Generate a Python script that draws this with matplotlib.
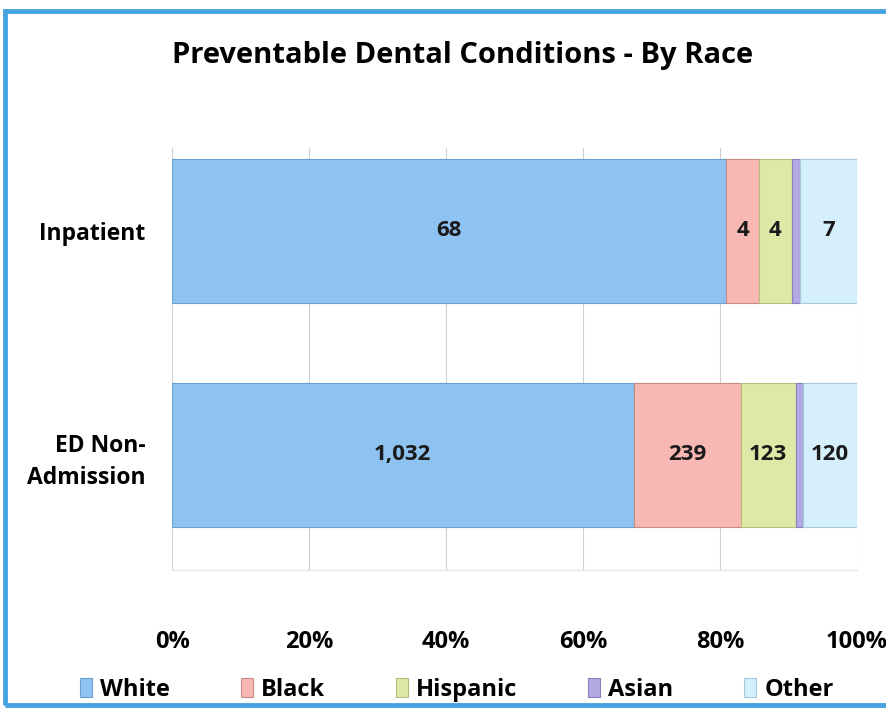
import matplotlib
matplotlib.use("Agg")
import matplotlib.pyplot as plt
from matplotlib.patches import Rectangle

# dados
categorias = ["ED Non-\nAdmission", "Inpatient"]
racas = ["White", "Black", "Hispanic", "Asian", "Other"]
white = [1032, 68]
black = [239, 4]
hispanic = [123, 4]
asian = [17, 1]
other = [120, 7]
cores = ["#8ec2f0", "#f7b7b2", "#dfe8a6", "#b3a9e3", "#d6effc"]
bordas = ["#6a9fd0", "#c98a86", "#b3bd7c", "#8a80c0", "#a8c8dc"]

plt.rcParams['font.family'] = ['Open Sans', 'DejaVu Sans']
plt.rcParams['font.weight'] = 'bold'

fig = plt.figure(figsize=(8.87, 7.08), dpi=100)
ax = fig.add_axes([0.194, 0.195, 0.772, 0.596])

series = [white, black, hispanic, asian, other]
totais = [sum(s[i] for s in series) for i in range(len(categorias))]
ypos = list(range(len(categorias)))
esquerda = [0.0] * len(categorias)
for nome, vals, cor, borda in zip(racas, series, cores, bordas):
    frac = [v / t for v, t in zip(vals, totais)]
    ax.barh(ypos, frac, left=esquerda, height=0.64, color=cor,
            edgecolor=borda, linewidth=0.8, label=nome, zorder=2)
    if nome != "Asian":
        for y, f, l, v in zip(ypos, frac, esquerda, vals):
            ax.text(l + f / 2, y, f"{v:,}", ha="center", va="center",
                    fontsize=16, fontweight="bold", color="#1a1a1a", zorder=3)
    esquerda = [l + f for l, f in zip(esquerda, frac)]

ax.set_xlim(0, 1)
ax.set_ylim(-0.513, 1.37)
ax.set_xticks([0, 0.2, 0.4, 0.6, 0.8, 1.0])
ax.set_xticklabels(["0%", "20%", "40%", "60%", "80%", "100%"])
ax.set_yticks(ypos)
ax.set_yticklabels(categorias, linespacing=1.45)
ax.tick_params(axis="x", length=0, pad=43, labelsize=17)
ax.tick_params(axis="y", length=0, pad=19, labelsize=16.5)
ax.grid(axis="x", color="#d0d0d0", linewidth=0.8, zorder=0)
for lado in ["top", "right", "left"]:
    ax.spines[lado].set_visible(False)
ax.spines["bottom"].set_color("#e6e6e6")

fig.text(0.522, 0.922, "Preventable Dental Conditions - By Race",
         ha="center", va="center", fontsize=21, fontweight="bold")

leg = fig.legend(loc="center", bbox_to_anchor=(0.515, 0.026), ncol=5,
                 frameon=False, fontsize=17, handlelength=0.5,
                 handleheight=0.9, handletextpad=0.35, columnspacing=3.0)

# moldura azul
fig.patches.append(Rectangle((0.006, 0.004), 1.1, 0.98, transform=fig.transFigure,
                             fill=False, edgecolor="#47a3e0", linewidth=3.5))

fig.savefig("out.png", dpi=100)
